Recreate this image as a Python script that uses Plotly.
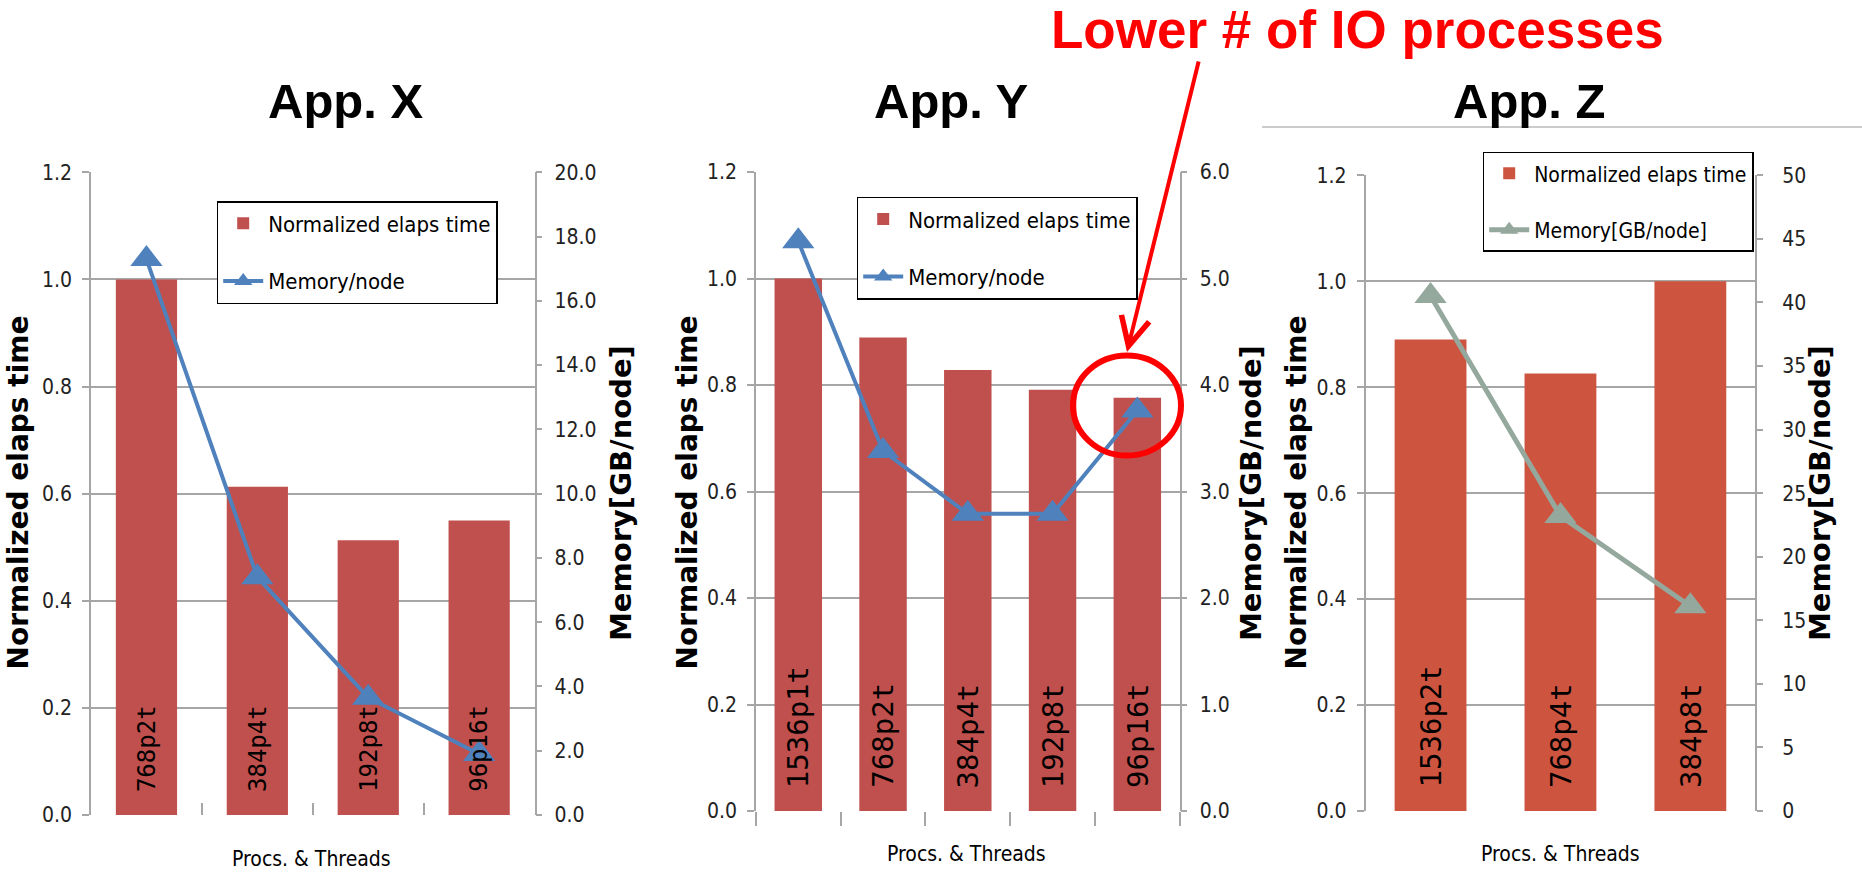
import plotly.graph_objects as go

# ---- data -------------------------------------------------------------
x_cats = ["768p2t", "384p4t", "192p8t", "96p16t"]
x_time = [1.0, 0.613, 0.513, 0.550]
x_mem = [17.3, 7.4, 3.65, 1.9]

y_cats = ["1536p1t", "768p2t", "384p4t", "192p8t", "96p16t"]
y_time = [1.0, 0.889, 0.828, 0.791, 0.776]
y_mem = [5.35, 3.38, 2.79, 2.79, 3.76]

z_cats = ["1536p2t", "768p4t", "384p8t"]
z_time = [0.890, 0.826, 1.0]
z_mem = [40.5, 23.2, 16.1]

time_ticks = [0.0, 0.2, 0.4, 0.6, 0.8, 1.0, 1.2]
x_mem_ticks = [0, 2, 4, 6, 8, 10, 12, 14, 16, 18, 20]
y_mem_ticks = [0, 1, 2, 3, 4, 5, 6]
z_mem_ticks = [0, 5, 10, 15, 20, 25, 30, 35, 40, 45, 50]

# ---- page geometry ----------------------------------------------------
W, H = 1862, 879


def px(v):
    return v / W


def py(v):
    return 1 - v / H


NARROW = "DejaVu Sans Condensed, Liberation Sans Narrow, sans-serif"
BOLD_WIDE = "DejaVu Sans, Verdana, sans-serif"
MONO = "DejaVu Sans Mono, monospace"
MONO_ADVANCE = 0.602  # glyph advance of the monospace font, in em
GRID = "#A6A6A6"
RED_BAR = "#C0504D"
ORANGE_BAR = "#CD5540"
BLUE = "#4F81BD"
SAGE = "#95A89D"

fig = go.Figure()

panels = [
    dict(cats=x_cats, time=x_time, mem=x_mem, bar=RED_BAR, line=BLUE, bw=0.552,
         mem_name="Memory/node", legend="legend", xa="x", ya="y", ya2="y2", lw=4),
    dict(cats=y_cats, time=y_time, mem=y_mem, bar=RED_BAR, line=BLUE, bw=0.56,
         mem_name="Memory/node", legend="legend2", xa="x2", ya="y3", ya2="y4", lw=4),
    dict(cats=z_cats, time=z_time, mem=z_mem, bar=ORANGE_BAR, line=SAGE, bw=0.553,
         mem_name="Memory[GB/node]", legend="legend3", xa="x3", ya="y5", ya2="y6", lw=5),
]

for i, p in enumerate(panels):
    fig.add_trace(go.Bar(
        x=p["cats"], y=p["time"], name="Normalized elaps time",
        marker=dict(color=p["bar"], line=dict(width=0)), width=p["bw"],
        xaxis=p["xa"], yaxis=p["ya"], legend=p["legend"],
        legendgroup=f"t{i}", showlegend=True,
    ))
    fig.add_trace(go.Scatter(
        x=p["cats"], y=p["mem"], name=p["mem_name"], mode="lines+markers",
        line=dict(color=p["line"], width=p["lw"]),
        marker=dict(symbol="triangle-up", size=28, color=p["line"]),
        xaxis=p["xa"], yaxis=p["ya2"], legend=p["legend"],
        legendgroup=f"m{i}", showlegend=True,
    ))

# ---- axes -------------------------------------------------------------
tick_font = dict(family=NARROW, size=21, color="#222222")

x_domains = [(91, 534.6), (755.9, 1179.7), (1365.6, 1755.3)]
y_domains = [(815, 172.3), (811, 172.0), (811, 175.3)]
mem_ranges = [(0, 20), (0, 6), (0, 50)]
mem_ticks = [x_mem_ticks, y_mem_ticks, z_mem_ticks]
mem_fmt = [".1f", ".1f", "d"]
mem_standoff = [8, 8, 15]
x_tick_style = [
    dict(ticks="inside", ticklen=12),
    dict(ticks="outside", ticklen=14),
    dict(ticks=""),
]

layout = dict(
    width=W, height=H,
    margin=dict(l=0, r=0, t=0, b=0, autoexpand=False),
    paper_bgcolor="white", plot_bgcolor="white",
)

for i in range(3):
    xn = "xaxis" if i == 0 else f"xaxis{i + 1}"
    yl = 2 * i + 1
    yr = 2 * i + 2
    yln = "yaxis" if yl == 1 else f"yaxis{yl}"
    yrn = f"yaxis{yr}"
    xref_name = "x" if i == 0 else f"x{i + 1}"
    yl_ref = "y" if yl == 1 else f"y{yl}"
    d0, d1 = x_domains[i]
    b, t = y_domains[i]
    layout[xn] = dict(
        domain=[px(d0), px(d1)], anchor=yl_ref, type="category",
        showticklabels=False, showline=False, showgrid=False, zeroline=False,
        tickson="boundaries", tickcolor=GRID, tickwidth=1.5,
        automargin=False, fixedrange=True, **x_tick_style[i],
    )
    layout[yln] = dict(
        domain=[py(b), py(t)], anchor=xref_name, range=[0, 1.2],
        tickvals=time_ticks, tickformat=".1f", tickfont=tick_font,
        showgrid=True, gridcolor=GRID, gridwidth=1.5,
        showline=True, linecolor=GRID, linewidth=1.5,
        ticks="outside", ticklen=7, tickcolor=GRID, tickwidth=1.5,
        ticklabelstandoff=6, zeroline=False, automargin=False, fixedrange=True,
    )
    layout[yrn] = dict(
        domain=[py(b), py(t)], anchor=xref_name, overlaying=yl_ref, side="right",
        range=list(mem_ranges[i]), tickvals=mem_ticks[i], tickformat=mem_fmt[i],
        tickfont=tick_font, showgrid=False,
        showline=True, linecolor=GRID, linewidth=1.5,
        ticks="outside", ticklen=6, tickcolor=GRID, tickwidth=1.5,
        ticklabelstandoff=mem_standoff[i], zeroline=False, automargin=False,
        fixedrange=True,
    )

# ---- legends ----------------------------------------------------------
legend_pos = [(216.7, 201), (856.7, 196.7), (1482.7, 151.7)]
legend_font = [22, 22, 21]
for i, (lx, ly) in enumerate(legend_pos):
    name = "legend" if i == 0 else f"legend{i + 1}"
    layout[name] = dict(
        x=px(lx), y=py(ly), xanchor="left", yanchor="top",
        bgcolor="white", bordercolor="black", borderwidth=1.5,
        font=dict(family=NARROW, size=legend_font[i], color="black"),
        tracegroupgap=26, itemwidth=40, orientation="v",
    )

fig.update_layout(**layout)

# ---- text -------------------------------------------------------------
ann = []

# category names written up the inside of each bar, starting 23 px above the base
label_size = [24, 29, 29]
for i, p in enumerate(panels):
    xref_name = "x" if i == 0 else f"x{i + 1}"
    yl_ref = "y" if i == 0 else f"y{2 * i + 1}"
    for c in p["cats"]:
        half_len = len(c) * MONO_ADVANCE * label_size[i] / 2
        ann.append(dict(
            x=c, y=0, xref=xref_name, yref=yl_ref, text=c, showarrow=False,
            textangle=-90, xanchor="center", yanchor="middle",
            yshift=23 + half_len,
            font=dict(family=MONO, size=label_size[i], color="black"),
        ))

# panel titles
for title, cx in [("App. X", 345), ("App. Y", 950.6), ("App. Z", 1529)]:
    ann.append(dict(
        x=px(cx), y=py(101), xref="paper", yref="paper", text=f"<b>{title}</b>",
        showarrow=False, xanchor="center", yanchor="middle",
        font=dict(family="Liberation Sans, Arial, sans-serif", size=49, color="black"),
    ))

# axis titles
for cx in [17.5, 686.5, 1295.5]:
    ann.append(dict(
        x=px(cx), y=py(493), xref="paper", yref="paper",
        text="<b>Normalized elaps time</b>", showarrow=False, textangle=-90,
        xanchor="center", yanchor="middle",
        font=dict(family=BOLD_WIDE, size=28, color="black"),
    ))
for cx in [621, 1251, 1820]:
    ann.append(dict(
        x=px(cx), y=py(493), xref="paper", yref="paper",
        text="<b>Memory[GB/node]</b>", showarrow=False, textangle=-90,
        xanchor="center", yanchor="middle",
        font=dict(family=BOLD_WIDE, size=29, color="black"),
    ))
for cx, cy in [(311.4, 859), (967, 854), (1560.4, 854)]:
    ann.append(dict(
        x=px(cx), y=py(cy), xref="paper", yref="paper", text="Procs. &amp; Threads",
        showarrow=False, xanchor="center", yanchor="middle",
        font=dict(family=NARROW, size=21, color="black"),
    ))

# call-out on the last App. Y point
ann.append(dict(
    x=px(1357), y=py(30), xref="paper", yref="paper",
    text="<b>Lower # of IO processes</b>", showarrow=False,
    xanchor="center", yanchor="middle",
    font=dict(family="Liberation Sans, Arial, sans-serif", size=53, color="#FF0000"),
))
ann.append(dict(
    x=px(1127), y=py(352), xref="paper", yref="paper", text="",
    showarrow=True, axref="pixel", ayref="pixel", ax=72, ay=-292,
    arrowhead=5, arrowsize=1.4, arrowwidth=4, arrowcolor="#FF0000", standoff=0,
))

fig.update_layout(annotations=ann)

fig.update_layout(shapes=[
    dict(type="circle", xref="paper", yref="paper",
         x0=px(1073), x1=px(1181), y0=py(455.5), y1=py(355.5),
         line=dict(color="#FF0000", width=6)),
    dict(type="line", xref="paper", yref="paper",
         x0=px(1262), x1=1, y0=py(127), y1=py(127),
         line=dict(color="#CCCCCC", width=2)),
])

fig.write_html("out.html")
